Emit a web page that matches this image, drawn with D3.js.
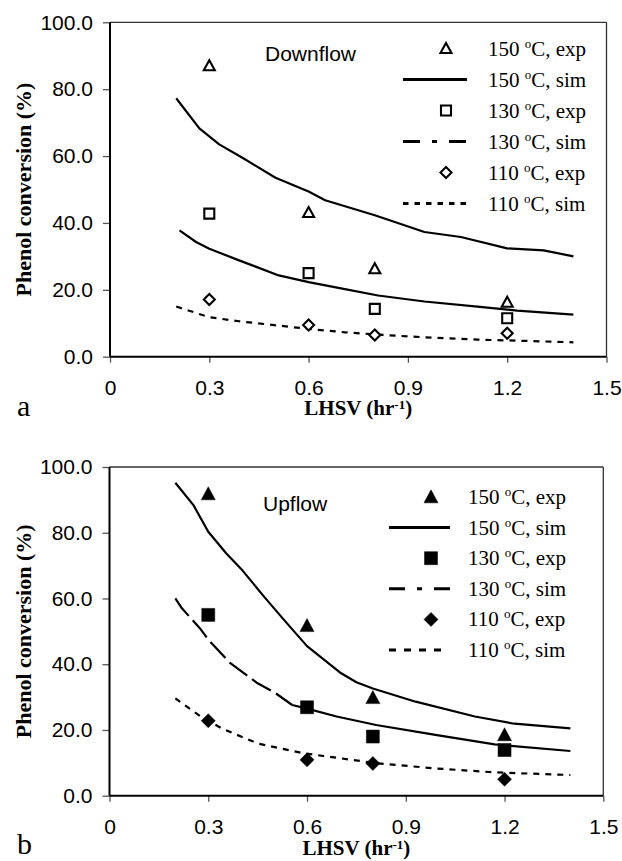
<!DOCTYPE html>
<html>
<head>
<meta charset="utf-8">
<script src="https://cdn.jsdelivr.net/npm/d3@7"></script>
<style>
  body { margin: 0; background: #fff; }
  svg { display: block; }
</style>
</head>
<body>
<svg id="fig" width="622" height="861"></svg>
<script>
// Axis ticks
const xTicks = [0, 0.3, 0.6, 0.9, 1.2, 1.5];
const yTicks = [0, 20, 40, 60, 80, 100];

// LHSV (hr^-1) of the experimental runs
const lhsvExp = [0.3, 0.6, 0.8, 1.2];

// Downflow: measured phenol conversion (%)
const down150Exp = [87.0, 43.1, 26.3, 16.3];
const down130Exp = [42.8, 25.0, 14.3, 11.5];
const down110Exp = [17.1, 9.5, 6.5, 7.0];

// Downflow: simulated conversion, [LHSV, %]
const down150Sim = [[0.20,77.3],[0.27,68.3],[0.33,63.5],[0.40,59.5],[0.50,53.5],[0.60,49.4],[0.65,46.8],[0.80,42.3],[0.95,37.3],[1.06,35.8],[1.20,32.4],[1.31,31.8],[1.40,30.0]];
const down130Sim = [[0.21,37.8],[0.26,34.3],[0.30,32.3],[0.39,28.8],[0.51,24.3],[0.60,22.3],[0.69,20.6],[0.81,18.3],[0.95,16.5],[1.11,15.0],[1.23,13.8],[1.40,12.6]];
const down110Sim = [[0.20,15.0],[0.30,11.8],[0.39,10.6],[0.51,9.3],[0.60,8.3],[0.71,7.3],[0.81,6.6],[0.95,5.8],[1.11,5.1],[1.23,4.8],[1.40,4.3]];

// Upflow: measured phenol conversion (%)
const up150Exp = [91.8, 51.7, 29.8, 18.5];
const up130Exp = [55.0, 26.9, 18.0, 13.9];
const up110Exp = [22.8, 10.9, 9.8, 5.0];

// Upflow: simulated conversion, [LHSV, %]
const up150Sim = [[0.20,95.2],[0.255,88.4],[0.30,80.3],[0.355,73.7],[0.40,69.0],[0.47,60.5],[0.53,53.5],[0.60,45.5],[0.70,37.5],[0.75,34.5],[0.80,32.6],[0.93,28.6],[1.11,24.1],[1.23,21.9],[1.40,20.5]];
const up130Sim = [[0.20,60.0],[0.22,57.0],[0.275,50.9],[0.30,47.5],[0.365,40.5],[0.45,34.2],[0.50,31.5],[0.555,27.6],[0.60,26.5],[0.69,24.1],[0.81,21.5],[0.99,18.5],[1.17,15.6],[1.40,13.6]];
const up110Sim = [[0.20,29.6],[0.27,24.6],[0.34,20.5],[0.45,15.9],[0.59,12.9],[0.70,11.4],[0.81,9.9],[0.99,8.3],[1.17,7.1],[1.40,6.3]];

// Legend entries: temperature and kind
const legendTemps = ["150", "150", "130", "130", "110", "110"];
const legendKinds = ["exp", "sim", "exp", "sim", "exp", "sim"];

const svg = d3.select("#fig");
const SANS = "'Liberation Sans', Arial, sans-serif";
const SERIF = "'Liberation Serif', 'Times New Roman', serif";

function markerPath(shape, filled) {
  if (shape === "tri") {
    const w = filled ? 14 : 11, h = filled ? 13 : 10;
    return `M0,${-h * 0.55}L${w / 2},${h * 0.45}L${-w / 2},${h * 0.45}Z`;
  }
  if (shape === "sq") {
    const s = filled ? 13 : 10;
    return `M${-s / 2},${-s / 2}h${s}v${s}h${-s}Z`;
  }
  const r = filled ? 7 : 5.5;
  return `M0,${-r}L${r},0L0,${r}L${-r},0Z`;
}

function drawMarker(g, shape, filled, cx, cy) {
  g.append("path")
    .attr("d", markerPath(shape, filled))
    .attr("transform", `translate(${cx},${cy})`)
    .attr("fill", filled ? "#000" : "#fff")
    .attr("stroke", "#000")
    .attr("stroke-width", filled ? 0.5 : 2.1)
    .attr("stroke-linejoin", "miter");
}

function drawPanel(cfg) {
  const g = svg.append("g");
  const x = d3.scaleLinear().domain([0, 1.5]).range([cfg.left, cfg.right]);
  const y = d3.scaleLinear().domain([0, 100]).range([cfg.bottom, cfg.top]);

  // frame: thin top/right, heavier left/bottom axis lines
  g.append("line").attr("x1", cfg.left).attr("x2", cfg.right).attr("y1", cfg.top).attr("y2", cfg.top)
    .attr("stroke", "#333").attr("stroke-width", 1.3);
  g.append("line").attr("x1", cfg.right).attr("x2", cfg.right).attr("y1", cfg.top).attr("y2", cfg.bottom)
    .attr("stroke", "#333").attr("stroke-width", 1.3);

  const xAxis = g.append("g").attr("transform", `translate(0,${cfg.bottom})`)
    .call(d3.axisBottom(x).tickValues(xTicks)
      .tickFormat(d => d === 0 ? "0" : d3.format(".1f")(d))
      .tickSize(6).tickPadding(17));
  const yAxis = g.append("g").attr("transform", `translate(${cfg.left},0)`)
    .call(d3.axisLeft(y).tickValues(yTicks).tickFormat(d3.format(".1f"))
      .tickSize(7).tickPadding(10));
  [xAxis, yAxis].forEach(a => {
    a.select(".domain").remove();
    a.selectAll(".tick line").attr("stroke", "#555").attr("stroke-width", 1.3);
    a.selectAll(".tick text").attr("font-family", SANS).attr("font-size", 21).attr("fill", "#000");
  });

  g.append("line").attr("x1", cfg.left).attr("x2", cfg.left).attr("y1", cfg.top).attr("y2", cfg.bottom)
    .attr("stroke", "#000").attr("stroke-width", 2);
  g.append("line").attr("x1", cfg.left).attr("x2", cfg.right).attr("y1", cfg.bottom).attr("y2", cfg.bottom)
    .attr("stroke", "#000").attr("stroke-width", 2);

  // simulated curves
  const line = d3.line().x(d => x(d[0])).y(d => y(d[1]));
  const curve = (data, dash) => g.append("path").attr("d", line(data))
    .attr("fill", "none").attr("stroke", "#000").attr("stroke-width", 2.2)
    .attr("stroke-linejoin", "round")
    .attr("stroke-dasharray", dash || null);

  curve(cfg.sim150);
  if (cfg.dash130Until != null) {
    const k = cfg.sim130.findIndex(d => d[0] >= cfg.dash130Until);
    curve(cfg.sim130.slice(0, k + 1), "22,6");
    curve(cfg.sim130.slice(k));
  } else {
    curve(cfg.sim130);
  }
  curve(cfg.sim110, "6,6");

  // measured points
  const pts = [["tri", cfg.exp150], ["sq", cfg.exp130], ["dia", cfg.exp110]];
  pts.forEach(([shape, vals]) => {
    vals.forEach((v, i) => drawMarker(g, shape, cfg.filled, x(lhsvExp[i]), y(v)));
  });

  // axis titles
  g.append("text")
    .attr("transform", `translate(31,${(cfg.top + cfg.bottom) / 2}) rotate(-90)`)
    .attr("text-anchor", "middle").attr("font-family", SERIF).attr("font-weight", "bold")
    .attr("font-size", 22).text("Phenol conversion (%)");

  const xt = g.append("text")
    .attr("x", (cfg.left + cfg.right) / 2).attr("y", cfg.xTitleY)
    .attr("text-anchor", "middle").attr("font-family", SERIF).attr("font-weight", "bold")
    .attr("font-size", 21);
  xt.append("tspan").text("LHSV (hr");
  xt.append("tspan").attr("font-size", 13).attr("dy", -6).text("-1");
  xt.append("tspan").attr("dy", 6).text(")");

  // panel letter
  g.append("text").attr("x", 17).attr("y", cfg.letterY)
    .attr("font-family", SERIF).attr("font-size", 30).text(cfg.letter);

  // flow direction
  g.append("text").attr("x", cfg.flowX).attr("y", cfg.flowY)
    .attr("font-family", SANS).attr("font-size", 21).text(cfg.flowLabel);

  // legend
  const lg = cfg.legend;
  const shapes = ["tri", null, "sq", null, "dia", null];
  const dashes = [null, null, null, lg.dashDot, null, lg.dotted];
  legendTemps.forEach((t, i) => {
    const cy = lg.y0 + i * lg.step;
    if (shapes[i]) {
      drawMarker(g, shapes[i], cfg.filled, lg.markX, cy);
    } else {
      g.append("line").attr("x1", lg.lineX1).attr("x2", i === 5 ? lg.dotX2 : lg.lineX2)
        .attr("y1", cy).attr("y2", cy)
        .attr("stroke", "#000").attr("stroke-width", 3)
        .attr("stroke-dasharray", dashes[i]);
    }
    const tx = g.append("text").attr("x", lg.textX).attr("y", cy + 7)
      .attr("font-family", SERIF).attr("font-size", 21);
    tx.append("tspan").text(t + " ");
    tx.append("tspan").attr("font-size", 13).attr("dy", -8).text("o");
    tx.append("tspan").attr("dy", 8).text("C, " + legendKinds[i]);
  });
}

drawPanel({
  left: 110, right: 606.5, top: 22.3, bottom: 356.7,
  filled: false, letter: "a", letterY: 416, xTitleY: 415,
  flowLabel: "Downflow", flowX: 265, flowY: 61,
  exp150: down150Exp, exp130: down130Exp, exp110: down110Exp,
  sim150: down150Sim, sim130: down130Sim, sim110: down110Sim,
  dash130Until: null,
  legend: { y0: 48.5, step: 31, markX: 446, lineX1: 403, lineX2: 467, dotX2: 467,
            textX: 488, dashDot: "17,12,5,12", dotted: "5.5,6" }
});

drawPanel({
  left: 109.5, right: 603.3, top: 467, bottom: 795.7,
  filled: true, letter: "b", letterY: 854, xTitleY: 855,
  flowLabel: "Upflow", flowX: 263, flowY: 511,
  exp150: up150Exp, exp130: up130Exp, exp110: up110Exp,
  sim150: up150Sim, sim130: up130Sim, sim110: up110Sim,
  dash130Until: 0.555,
  legend: { y0: 497, step: 30.6, markX: 431, lineX1: 389, lineX2: 450, dotX2: 441,
            textX: 468, dashDot: "16,12,5,12", dotted: "7,8" }
});
</script>
</body>
</html>
